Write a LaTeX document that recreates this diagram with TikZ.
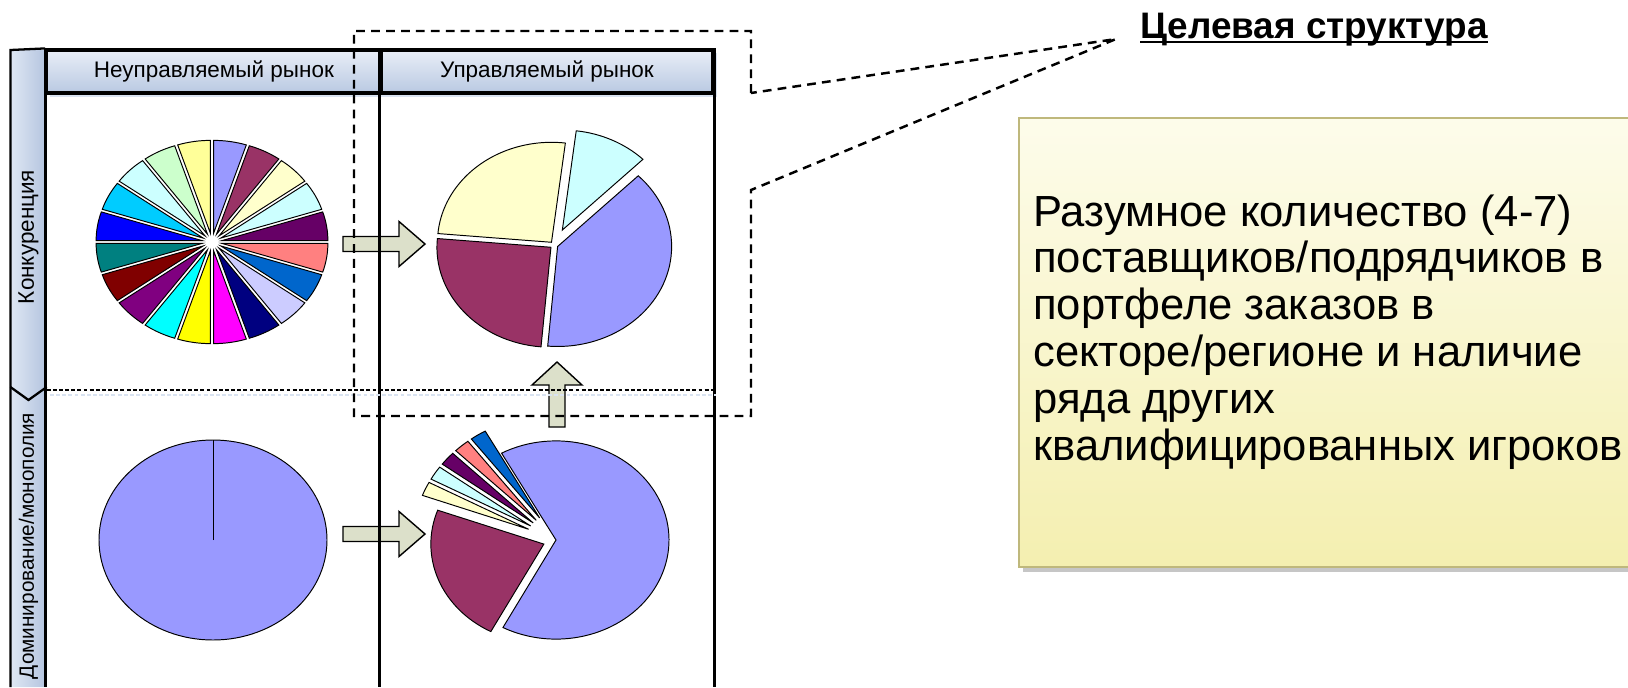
\documentclass[tikz,border=0pt]{standalone}
\usepackage{fontspec}
\setmainfont{Liberation Sans}
\usetikzlibrary{shadows}

\definecolor{xlPeri}{HTML}{9999FF}
\definecolor{xlPlum}{HTML}{993366}
\definecolor{xlIvory}{HTML}{FFFFCC}
\definecolor{xlTurqL}{HTML}{CCFFFF}
\definecolor{xlPurpD}{HTML}{660066}
\definecolor{xlCoral}{HTML}{FF8080}
\definecolor{xlOcean}{HTML}{0066CC}
\definecolor{xlIce}{HTML}{CCCCFF}
\definecolor{xlNavy}{HTML}{000080}
\definecolor{xlPink}{HTML}{FF00FF}
\definecolor{xlYellow}{HTML}{FFFF00}
\definecolor{xlTurq}{HTML}{00FFFF}
\definecolor{xlViolet}{HTML}{800080}
\definecolor{xlRed}{HTML}{800000}
\definecolor{xlTeal}{HTML}{008080}
\definecolor{xlBlue}{HTML}{0000FF}
\definecolor{xlSky}{HTML}{00CCFF}
\definecolor{xlGreenL}{HTML}{CCFFCC}
\definecolor{xlYellowL}{HTML}{FFFF99}
\definecolor{arrowFill}{HTML}{DCE0CA}
\definecolor{headTop}{HTML}{E9EEF7}
\definecolor{headBot}{HTML}{B9C9E2}
\definecolor{headShade}{HTML}{D9E3F1}
\definecolor{bandL}{HTML}{DFE7F3}
\definecolor{bandR}{HTML}{B3C4DF}
\definecolor{boxTop}{HTML}{FDFCEB}
\definecolor{boxBot}{HTML}{F4EFB0}
\definecolor{boxLine}{HTML}{BFB87C}

\begin{document}
\begin{tikzpicture}[x=0.02cm, y=-0.02cm,
  gridline/.style={line width=1.8pt},
  slice/.style={draw=black, line width=0.55pt},
  fatarrow/.style={draw=black, line width=0.8pt, fill=arrowFill},
  zone/.style={draw=black, line width=1.4pt, dash pattern=on 5pt off 3.5pt},
  headcell/.style={draw=black, line width=1.8pt, top color=headTop, bottom color=headBot,
    minimum height=0.86cm, inner sep=0, font=\fontsize{12.8}{15}\selectfont},
  bandtext/.style={rotate=90, font=\fontsize{12.8}{15}\selectfont}]
  \path[use as bounding box, clip] (0,0) rectangle (1628,687);

  % header and side band
  \fill[headShade] (50,53) rectangle (717,97);
  \node[headcell, minimum width=6.686cm] (freeHead) at (213.85,71.5) {Неуправляемый рынок};
  \node[headcell, minimum width=6.64cm] (ctrlHead) at (547,71.5) {Управляемый рынок};
  \shade[left color=bandL, right color=bandR] (10.4,50) -- (46.7,50) -- (46.7,387) -- (28.5,400) -- (10.4,387) -- cycle;
  \shade[left color=bandL, right color=bandR] (10.4,387) -- (28.5,400) -- (46.7,387) -- (46.7,687) -- (10.4,687) -- cycle;
  \draw[line width=1.3pt] (10.4,687) -- (10.4,50) -- (freeHead.north west);
  \draw[line width=1.3pt] (10.4,387) -- (28.5,400) -- (46.7,387);
  \node[bandtext] (compLabel) at (28.5,237) {Конкуренция};
  \node[bandtext, font=\fontsize{11.8}{14}\selectfont] (monoLabel) at (28.5,546) {Доминирование/монополия};

  % pies
  \begin{scope}[shift={(212,242)}, yscale=-0.877]
    \foreach \c [count=\i] in {xlPeri,xlPlum,xlIvory,xlTurqL,xlPurpD,xlCoral,xlOcean,xlIce,xlNavy,xlPink,
        xlYellow,xlTurq,xlViolet,xlRed,xlTeal,xlBlue,xlSky,xlTurqL,xlGreenL,xlYellowL}
      \filldraw[slice, fill=\c] ({99-18*\i}:10) -- ++({108-18*\i}:106)
        arc[start angle={108-18*\i}, end angle={90-18*\i}, radius=106] -- cycle;
  \end{scope}
  \begin{scope}[shift={(554,245)}, yscale=-0.877]
    \foreach \s/\e/\d/\c in {175/83/4/xlIvory, 83/45/19/xlTurqL, 45/-95/4/xlPeri, -95/-185/4/xlPlum}
      \filldraw[slice, fill=\c] ({(\s+\e)/2}:\d) -- ++(\s:114)
        arc[start angle=\s, end angle=\e, radius=114] -- cycle;
  \end{scope}
  \filldraw[slice, fill=xlPeri] (213,540) ellipse [x radius=114, y radius=100];
  \draw[slice] (213,540) -- ++(0,-100);
  \begin{scope}[shift={(556,540)}, yscale=-0.877]
    \foreach \s/\e/\d/\c in {118.8/-118/0/xlPeri, 242/160/13/xlPlum, 160/151.8/30/xlIvory,
        151.8/143.6/30/xlTurqL, 143.6/135.4/30/xlPurpD, 135.4/127.2/30/xlCoral, 127.2/118.8/30/xlOcean}
      \filldraw[slice, fill=\c] ({(\s+\e)/2}:\d) -- ++(\s:113)
        arc[start angle=\s, end angle=\e, radius=113] -- cycle;
  \end{scope}

  % arrows
  \draw[fatarrow] (343,236.5) -- ++(56,0) -- ++(0,-15) -- ++(26,22.5) -- ++(-26,22.5) -- ++(0,-15) -- ++(-56,0) -- cycle;
  \draw[fatarrow] (343,526.5) -- ++(56,0) -- ++(0,-15) -- ++(26,22.5) -- ++(-26,22.5) -- ++(0,-15) -- ++(-56,0) -- cycle;
  \draw[fatarrow] (549,427) -- ++(0,-42) -- ++(-17,0) -- ++(25,-23) -- ++(25,23) -- ++(-17,0) -- ++(0,42) -- cycle;

  % grid
  \draw[gridline] (freeHead.north west) -- (freeHead.north west |- 0,687);
  \draw[gridline] (ctrlHead.north west) -- (ctrlHead.north west |- 0,687);
  \draw[gridline] (ctrlHead.north east) -- (ctrlHead.north east |- 0,687);
  \draw[headShade, line width=1.2pt, dash pattern=on 2.2pt off 1.3pt] (50,395) -- (716,395);
  \draw[line width=1.6pt, dash pattern=on 2.2pt off 1.3pt] (46.7,390) -- (713,390);

  % target zone and callout
  \node[anchor=base west, inner sep=0, font=\bfseries\fontsize{21}{24}\selectfont] (goal) at (1140,38.5) {Целевая структура};
  \draw[line width=1.2pt] ([yshift=-2.2pt]goal.base west) -- ([yshift=-2.2pt]goal.base east);
  \coordinate (callout) at (1116,39);
  \draw[zone] (751,93) -- (751,31) -- (354,31) -- (354,416) -- (751,416) -- (751,190) -- (callout) -- cycle;

  \node[draw=boxLine, line width=1.3pt, top color=boxTop, bottom color=boxBot, anchor=north west,
    minimum width=12.85cm, minimum height=8.98cm, inner sep=0,
    drop shadow={shadow xshift=2.5pt, shadow yshift=-3pt, opacity=0.45}] (target) at (1017.5,117) {};
  \node[anchor=west, align=left, inner sep=0, font=\fontsize{24.8}{26.7}\selectfont] (goalText) at (1033,332)
    {Разумное количество (4-7)\\поставщиков/подрядчиков в\\портфеле заказов в\\секторе/регионе и наличие\\ряда других\\квалифицированных игроков};
\end{tikzpicture}
\end{document}
